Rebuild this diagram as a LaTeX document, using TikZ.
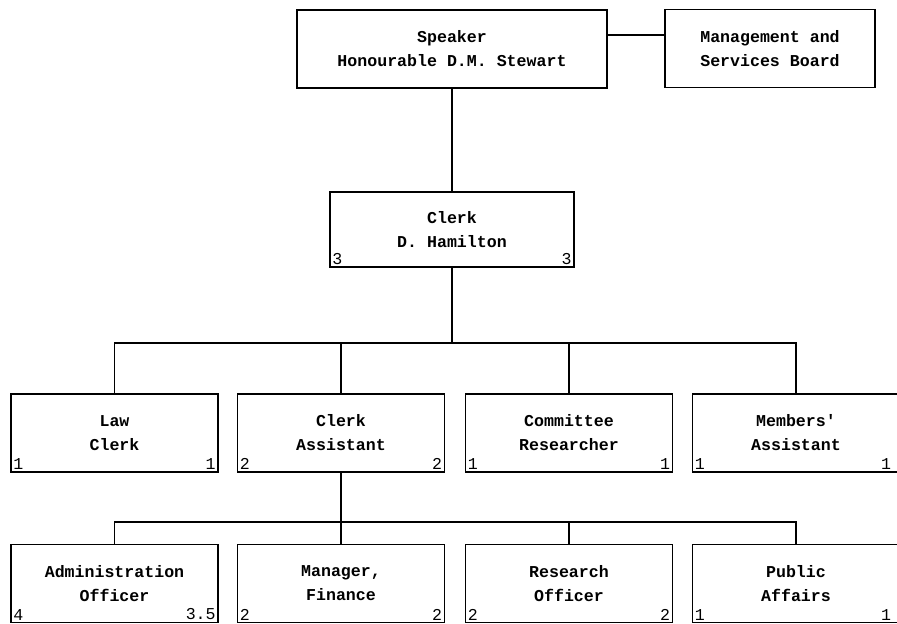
\documentclass[tikz,border=0pt]{standalone}
\usepackage{fontspec}
\setmonofont{Liberation Mono}
\begin{document}
\begin{tikzpicture}[x=0.025cm, y=-0.025cm,
    font=\ttfamily\bfseries\fontsize{11.8}{17}\selectfont,
    box/.style={draw, line width=1.2pt, align=center, inner sep=0pt, outer sep=0pt,
                minimum width=5.175cm, minimum height=1.95cm},
    num/.style={inner sep=1.5pt, font=\ttfamily\fontsize{11.8}{14}\selectfont},
    link/.style={line width=1.2pt}]

    % 0. Рамка картинки (как у скана)
    \useasboundingbox (0,0) rectangle (897,624);

    % 1. Верхний уровень: спикер и совет
    \node[box, minimum width=7.75cm] (speaker) at (452,49) {Speaker\\Honourable D.M. Stewart};
    \node[box, minimum width=5.25cm] (board) at (770,48.5) {Management and\\Services Board};
    \coordinate (side) at ([yshift=0.35cm]speaker.east);
    \draw[link] (side) -- (side -| board.west);

    % 2. Клерк
    \node[box, minimum width=6.1cm, minimum height=1.875cm] (clerk) at (452,229.5) {Clerk\\D. Hamilton};
    \node[num, anchor=south west] (clerk-l) at (clerk.south west) {3};
    \node[num, anchor=south east] (clerk-r) at (clerk.south east) {3};
    \draw[link] (speaker.south) -- (clerk.north);

    % 3. Второй ряд
    \node[box] (law) at (114.5,433) {Law\\Clerk};
    \node[box] (assist) at (341,433) {Clerk\\Assistant};
    \node[box] (committee) at (569,433) {Committee\\Researcher};
    \node[box] (members) at (796,433) {Members'\\Assistant};

    \node[num, anchor=south west] (law-l) at (law.south west) {1};
    \node[num, anchor=south east] (law-r) at (law.south east) {1};
    \node[num, anchor=south west] (assist-l) at (assist.south west) {2};
    \node[num, anchor=south east] (assist-r) at (assist.south east) {2};
    \node[num, anchor=south west] (committee-l) at (committee.south west) {1};
    \node[num, anchor=south east] (committee-r) at (committee.south east) {1};
    \node[num, anchor=south west] (members-l) at (members.south west) {1};
    \node[num, anchor=south east] (members-r) at ([xshift=-0.15cm]members.south east) {1};

    % шина от клерка
    \coordinate (bus1) at (452,343);
    \draw[link] (clerk.south) -- (bus1);
    \foreach \n in {law, assist, committee, members}
        \draw[link] (\n.north) |- (bus1);

    % 4. Третий ряд
    \node[box] (admin) at (114.5,583.5) {Administration\\Officer};
    \node[box] (finance) at (341,583.5) {Manager,\\Finance};
    \node[box] (research) at (569,583.5) {Research\\Officer};
    \node[box] (public) at (796,583.5) {Public\\Affairs};

    \node[num, anchor=south west] (admin-l) at (admin.south west) {4};
    \node[num, anchor=south east] (admin-r) at (admin.south east) {3.5};
    \node[num, anchor=south west] (finance-l) at (finance.south west) {2};
    \node[num, anchor=south east] (finance-r) at (finance.south east) {2};
    \node[num, anchor=south west] (research-l) at (research.south west) {2};
    \node[num, anchor=south east] (research-r) at (research.south east) {2};
    \node[num, anchor=south west] (public-l) at (public.south west) {1};
    \node[num, anchor=south east] (public-r) at ([xshift=-0.15cm]public.south east) {1};

    % шина от помощника клерка
    \coordinate (bus2) at (341,522);
    \draw[link] (assist.south) -- (bus2);
    \foreach \n in {admin, finance, research, public}
        \draw[link] (\n.north) |- (bus2);

\end{tikzpicture}
\end{document}
